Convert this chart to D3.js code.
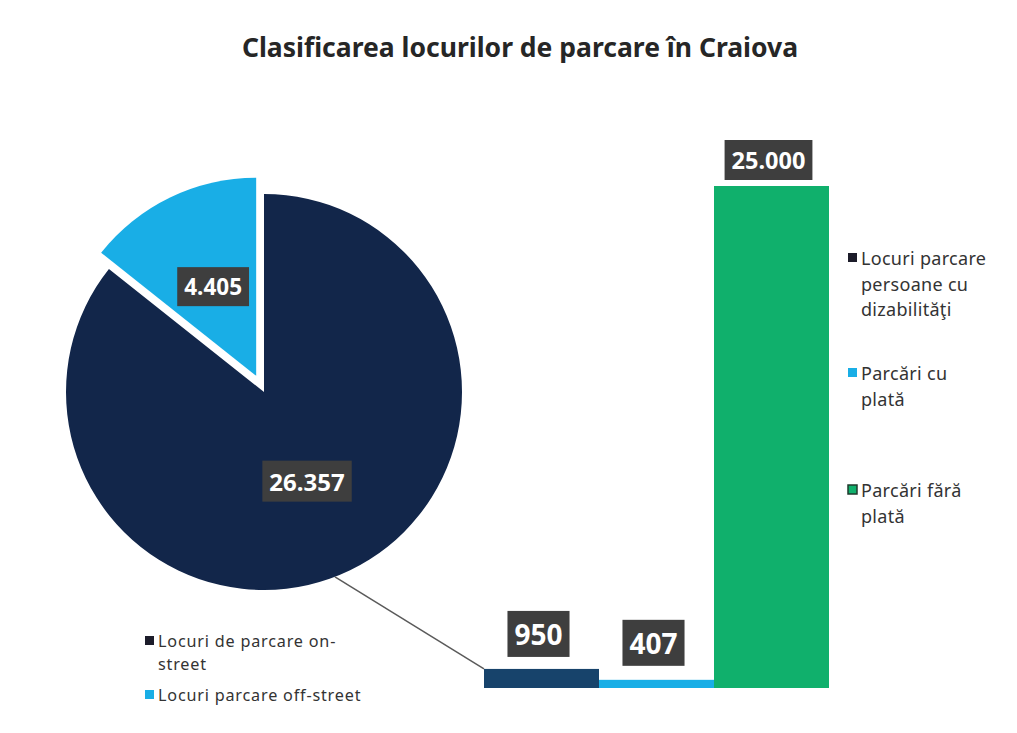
<!DOCTYPE html>
<html>
<head>
<meta charset="utf-8">
<script src="https://cdn.jsdelivr.net/npm/d3@7/dist/d3.min.js"></script>
<style>
  html, body { margin: 0; padding: 0; background: #ffffff; }
  svg { display: block; }
</style>
</head>
<body>
<svg id="chart" width="1017" height="733"></svg>
<script>
// ---- data ----
const chartTitle = "Clasificarea locurilor de parcare în Craiova";

const pieCategories = ["Locuri de parcare on-street", "Locuri parcare off-street"];
const pieValues = [26357, 4405];
const pieLegendLines = [["Locuri de parcare on-", "street"], ["Locuri parcare off-street"]];

const barCategories = ["Locuri parcare persoane cu dizabilităţi", "Parcări cu plată", "Parcări fără plată"];
const barValues = [950, 407, 25000];
const barLegendLines = [["Locuri parcare", "persoane cu", "dizabilităţi"], ["Parcări cu", "plată"], ["Parcări fără", "plată"]];

// ---- styling ----
const pieColors = ["#12264a", "#19aee6"];
const barColors = ["#17436b", "#19aee6", "#10b06c"];
const labelBoxFill = "#3e3e3e";
const textColor = "#333333";
const fontFamily = "'Noto Sans', 'Open Sans', sans-serif";

// Romanian number format: dot as thousands separator
const roLocale = d3.formatLocale({ decimal: ",", thousands: ".", grouping: [3], currency: ["", " lei"] });
const fmt = roLocale.format(",d");

const svg = d3.select("#chart");

// ---- title ----
svg.append("text")
  .attr("x", 520).attr("y", 57)
  .attr("text-anchor", "middle")
  .attr("font-family", fontFamily)
  .attr("font-weight", "bold")
  .attr("font-size", 26.5)
  .attr("fill", "#262626")
  .text(chartTitle);

// helper: value label in a dark box
function boxedLabel(g, x, y, text, size) {
  const t = g.append("text")
    .attr("x", x).attr("y", y)
    .attr("text-anchor", "middle")
    .attr("dominant-baseline", "central")
    .attr("font-family", fontFamily)
    .attr("font-weight", "bold")
    .attr("font-size", size)
    .attr("fill", "#ffffff")
    .text(text);
  const bb = t.node().getBBox();
  const padX = 7, padY = 5;
  g.insert("rect", () => t.node())
    .attr("x", bb.x - padX).attr("y", bb.y - padY + 1)
    .attr("width", bb.width + padX * 2).attr("height", bb.height + padY * 2 - 2)
    .attr("fill", labelBoxFill);
}

// ---- pie ----
const cx = 264, cy = 392, radius = 198, explode = 18;
const pie = d3.pie().sort(null).startAngle(0).endAngle(2 * Math.PI);
const arcs = pie(pieValues);
const arcGen = d3.arc().innerRadius(0).outerRadius(radius);

const pieG = svg.append("g").attr("transform", `translate(${cx},${cy})`);
const sliceOffset = (d, i) => {
  if (i === 0) return [0, 0];
  const mid = (d.startAngle + d.endAngle) / 2;
  return [Math.sin(mid) * explode, -Math.cos(mid) * explode];
};

pieG.selectAll("path.slice")
  .data(arcs)
  .join("path")
  .attr("class", "slice")
  .attr("transform", (d, i) => `translate(${sliceOffset(d, i)})`)
  .attr("d", arcGen)
  .attr("fill", (d, i) => pieColors[i]);

// ---- bars ----
const x = d3.scaleBand().domain(barCategories).range([484, 829]).paddingInner(0).paddingOuter(0);
const y = d3.scaleLinear().domain([0, 25000]).range([688, 186]);

const barG = svg.append("g");
barG.selectAll("rect.bar")
  .data(barValues)
  .join("rect")
  .attr("class", "bar")
  .attr("x", (d, i) => x(barCategories[i]))
  .attr("y", d => y(d))
  .attr("width", x.bandwidth())
  .attr("height", d => y(0) - y(d))
  .attr("fill", (d, i) => barColors[i]);

// connector from the pie edge to the top of the first bar
const connAngle = 159 * Math.PI / 180;
svg.append("line")
  .attr("x1", cx + radius * Math.sin(connAngle))
  .attr("y1", cy - radius * Math.cos(connAngle))
  .attr("x2", x(barCategories[0]))
  .attr("y2", y(barValues[0]))
  .attr("stroke", "#5a5a5a")
  .attr("stroke-width", 1.5);

// ---- value labels ----
const labelG = svg.append("g");
const centroidArc = d3.arc().innerRadius(0).outerRadius(radius);
arcs.forEach((d, i) => {
  const [ox, oy] = sliceOffset(d, i);
  const [lx, ly] = centroidArc.centroid(d);
  boxedLabel(labelG, cx + ox + lx, cy + oy + ly, fmt(pieValues[i]), i === 0 ? 24 : 22.5);
});

const barLabelSize = [28, 28, 23.5];
const barLabelGap = [35, 37, 26];
barValues.forEach((v, i) => {
  boxedLabel(labelG, x(barCategories[i]) + x.bandwidth() / 2 - 3, y(v) - barLabelGap[i], fmt(v), barLabelSize[i]);
});

// ---- legends ----
function legend(g, items, colors, x0, y0s, lineH, size, spacing, strokes) {
  items.forEach((lines, i) => {
    const yy = y0s[i];
    g.append("rect")
      .attr("x", x0).attr("y", yy - 5)
      .attr("width", 9).attr("height", 9)
      .attr("fill", colors[i])
      .attr("stroke", strokes ? strokes[i] : "none")
      .attr("stroke-width", 1.5);
    lines.forEach((ln, j) => {
      g.append("text")
        .attr("font-family", fontFamily)
        .attr("font-size", size)
        .attr("letter-spacing", spacing)
        .attr("fill", textColor)
        .attr("x", x0 + 13)
        .attr("y", yy + j * lineH)
        .attr("dominant-baseline", "central")
        .text(ln);
    });
  });
}

const legG = svg.append("g");
legend(legG, barLegendLines, ["#1c1c2a", "#19aee6", "#10b06c"], 848, [258, 373, 490], 25.5, 18, 0.3,
  ["none", "none", "#1f3a2c"]);
legend(legG, pieLegendLines, ["#1c1c2a", "#19aee6"], 145, [641, 695], 22.5, 16.2, 0.8, null);
</script>
</body>
</html>
